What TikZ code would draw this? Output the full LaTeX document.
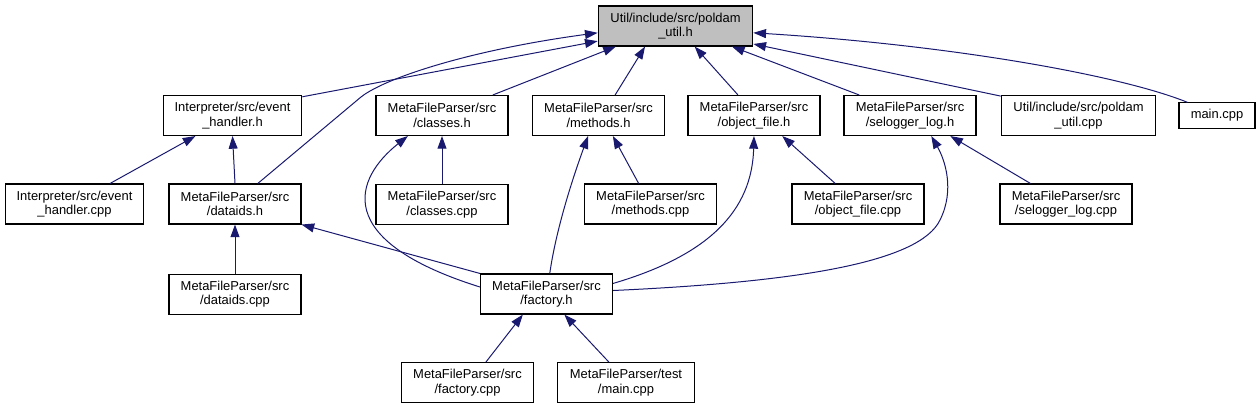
\documentclass[tikz,border=0pt]{standalone}
\usepackage{fontspec}
\setmainfont{Liberation Sans}
\usetikzlibrary{positioning, arrows.meta}
\definecolor{edgeblue}{RGB}{25,25,112}
\definecolor{rootgray}{RGB}{191,191,191}

\begin{document}
\begin{tikzpicture}[
    x=0.75pt, y=-0.75pt,
    >={Triangle[length=9.5pt,width=6.7pt]},
    file/.style={
        rectangle,
        draw,
        fill=white,
        line width=0.8pt,
        inner sep=0pt,
        minimum width=99pt,
        minimum height=30pt,
        align=center,
        font=\fontsize{9.7}{11}\selectfont
    },
    root/.style={
        file,
        fill=rootgray,
        minimum width=116pt
    },
    dep/.style={
        ->,
        draw=edgeblue,
        line width=0.75pt
    }
]

    \useasboundingbox (0,0) rectangle (1260,409);

    % Root header
    \node[root] (util_h) at (675.5,26) {Util/include/src/poldam\\\_util.h};

    % Direct includers
    \node[file, minimum width=104pt] (evh_h) at (232.5,115.5) {Interpreter/src/event\\\_handler.h};
    \node[file] (classes_h) at (442,115.5) {MetaFileParser/src\\/classes.h};
    \node[file] (methods_h) at (598.5,115.5) {MetaFileParser/src\\/methods.h};
    \node[file] (objfile_h) at (754,115.5) {MetaFileParser/src\\/object\_file.h};
    \node[file] (selog_h) at (910,115.5) {MetaFileParser/src\\/selogger\_log.h};
    \node[file, minimum width=116pt] (putil_cpp) at (1078.5,115.5) {Util/include/src/poldam\\\_util.cpp};
    \node[file, minimum width=57pt, minimum height=19pt] (main_cpp) at (1217,115.5) {main.cpp};

    % Second level
    \node[file, minimum width=104pt] (evh_cpp) at (74.5,204) {Interpreter/src/event\\\_handler.cpp};
    \node[file] (dataids_h) at (235,204) {MetaFileParser/src\\/dataids.h};
    \node[file, below=36pt of classes_h] (classes_cpp) {MetaFileParser/src\\/classes.cpp};
    \node[file] (methods_cpp) at (650.5,204) {MetaFileParser/src\\/methods.cpp};
    \node[file] (objfile_cpp) at (858,204) {MetaFileParser/src\\/object\_file.cpp};
    \node[file] (selog_cpp) at (1066,204) {MetaFileParser/src\\/selogger\_log.cpp};

    % Third level
    \node[file, below=36.75pt of dataids_h] (dataids_cpp) {MetaFileParser/src\\/dataids.cpp};
    \node[file] (factory_h) at (546.5,294) {MetaFileParser/src\\/factory.h};

    % Fourth level
    \node[file] (factory_cpp) at (467.5,382.5) {MetaFileParser/src\\/factory.cpp};
    \node[file, minimum width=103pt] (test_main) at (626,382.5) {MetaFileParser/test\\/main.cpp};

    % Edges into the root header
    \draw[dep] (evh_h.15) -- (util_h.191);
    \draw[dep] (dataids_h.42) -- (361,97) .. controls (385,78) and (470,50) .. (util_h.185);
    \draw[dep] (classes_h.22) -- (util_h.199);
    \draw[dep] (methods_h.51) -- (util_h.214);
    \draw[dep] (objfile_h.128) -- (util_h.313);
    \draw[dep] (selog_h.158) -- (util_h.340);
    \draw[dep] (putil_cpp.166) -- (util_h.347);
    \draw[dep] (main_cpp.156) .. controls (1120,75) and (950,45) .. (util_h.355);

    % Second level edges
    \draw[dep] (evh_cpp.30) -- (evh_h.209);
    \draw[dep] (dataids_h.north) -- (evh_h.south);
    \draw[dep] (classes_cpp) -- (classes_h);
    \draw[dep] (factory_h.174) .. controls (330,240) and (355,178) .. (classes_h.211);
    \draw[dep] (methods_cpp.120) -- (methods_h.305);
    \draw[dep] (factory_h.81) .. controls (556,230) and (572,180) .. (methods_h.243);
    \draw[dep] (objfile_cpp.138) -- (objfile_h.324);
    \draw[dep] (factory_h.9) .. controls (710,255) and (752,210) .. (objfile_h.south);
    \draw[dep] (selog_cpp.150) -- (selog_h.333);
    \draw[dep] (factory_h.3) .. controls (800,282) and (920,262) .. (940,220)
        .. controls (955,190) and (945,160) .. (selog_h.316);

    % Lower edges
    \draw[dep] (factory_h.north west) -- (dataids_h.south east);
    \draw[dep] (dataids_cpp) -- (dataids_h);
    \draw[dep] (factory_cpp.48) -- (factory_h.221);
    \draw[dep] (test_main.130) -- (factory_h.311);

\end{tikzpicture}
\end{document}
